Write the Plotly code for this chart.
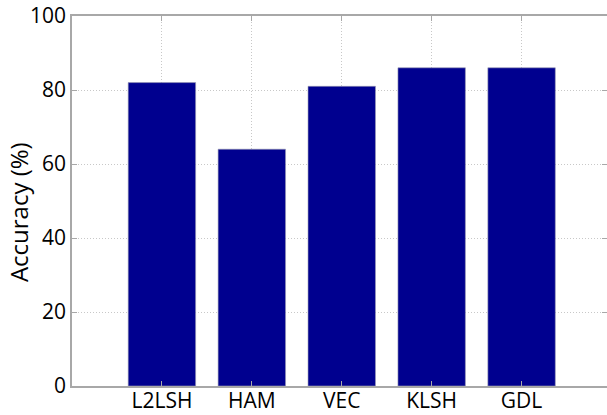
import plotly.graph_objects as go

categories = ["L2LSH", "HAM", "VEC", "KLSH", "GDL"]
accuracy = [82, 64, 81, 86, 86]
y_ticks = [0, 20, 40, 60, 80, 100]
y_label = "Accuracy (%)"

FONT = "Open Sans, Noto Sans, sans-serif"
AX = "#a8a8a8"
GRID = "#c8c8c8"

fig = go.Figure()
fig.add_trace(go.Bar(
    x=list(range(1, len(categories) + 1)),
    y=accuracy,
    width=0.75,
    marker=dict(color="#00008F", line=dict(color="#9a9ab0", width=0.6)),
))

fig.update_layout(
    width=607, height=415,
    margin=dict(l=72, r=0, t=16, b=29),
    paper_bgcolor="white", plot_bgcolor="white",
    showlegend=False,
    font=dict(family=FONT, size=21, color="black"),
)
fig.update_xaxes(
    range=[0, 5.95],
    tickvals=list(range(1, len(categories) + 1)),
    ticktext=categories,
    showline=True, linecolor=AX, linewidth=1.5, mirror="ticks",
    ticks="inside", ticklen=5, tickcolor=AX,
    showgrid=True, gridcolor=GRID, griddash="1px,2px", gridwidth=1,
    zeroline=False, automargin=False,
    tickfont=dict(family=FONT, size=21, color="black"),
    ticklabelstandoff=-5,
)
fig.update_yaxes(
    range=[0, 100],
    tickvals=y_ticks,
    showline=True, linecolor=AX, linewidth=1.5, mirror="ticks",
    ticks="inside", ticklen=5, tickcolor=AX,
    showgrid=True, gridcolor=GRID, griddash="1px,2px", gridwidth=1,
    zeroline=False, automargin=False,
    tickfont=dict(family=FONT, size=21, color="black"),
)
fig.add_annotation(
    text=y_label, textangle=-90, showarrow=False,
    xref="paper", x=0, xshift=-54, xanchor="center",
    yref="y", y=47, yanchor="middle",
    font=dict(family=FONT, size=24, color="black"),
)

fig.write_html("out.html")
